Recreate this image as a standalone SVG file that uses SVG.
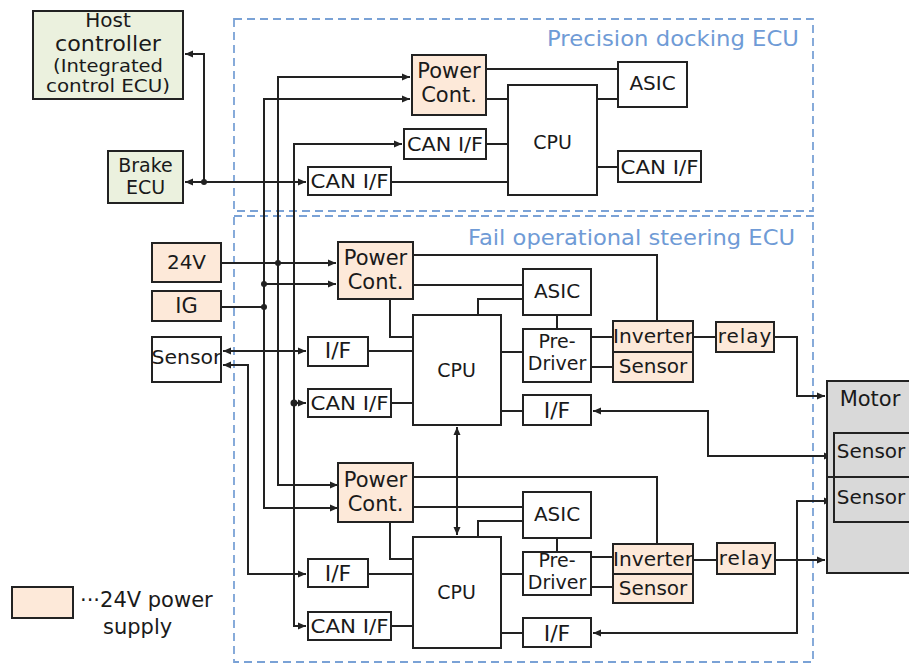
<svg xmlns="http://www.w3.org/2000/svg" width="909" height="663" viewBox="0 0 909 663">
<defs>
<style>
.box{stroke:#222;stroke-width:2}
.w{fill:#fff}
.p{fill:#fde9d9}
.g{fill:#ebf1de}
.m{fill:#d9d9d9}
.ln{fill:none;stroke:#222;stroke-width:2}
.t{font-family:"DejaVu Sans","Liberation Sans",sans-serif;fill:#1a1a1a;text-anchor:middle}
.ttl{font-family:"DejaVu Sans","Liberation Sans",sans-serif;fill:#6f9bd6;font-size:22px}
.dash{fill:none;stroke:#7aa2d6;stroke-width:1.8;stroke-dasharray:8 5}
.dot{fill:#222}
</style>
<marker id="ah" viewBox="0 0 8 8" refX="8" refY="4" markerWidth="8" markerHeight="8" markerUnits="userSpaceOnUse" orient="auto-start-reverse">
<path d="M0,0.5 L8,4 L0,7.5 z" fill="#222"/>
</marker>
</defs>
<rect width="909" height="663" fill="#fff"/>

<!-- ECU boundaries -->
<g id="pd-ecu">
<rect class="dash" x="234" y="19" width="579" height="192"/>
<text class="ttl" x="547" y="46" textLength="252" lengthAdjust="spacingAndGlyphs">Precision docking ECU</text>
</g>
<g id="fo-ecu">
<rect class="dash" x="234" y="216" width="579" height="446"/>
<text class="ttl" x="468" y="245" textLength="327" lengthAdjust="spacingAndGlyphs">Fail operational steering ECU</text>
</g>

<!-- connectors -->
<g id="connectors">
<!-- host / brake / CAN -->
<path class="ln" d="M306,182 H185" marker-start="url(#ah)" marker-end="url(#ah)"/>
<path class="ln" d="M204,182 V54 H185" marker-end="url(#ah)"/>
<!-- vertical buses -->
<path class="ln" d="M338,485 H278 V77 H410" marker-start="url(#ah)" marker-end="url(#ah)"/>
<path class="ln" d="M338,508 H264 V99 H410" marker-start="url(#ah)" marker-end="url(#ah)"/>
<path class="ln" d="M306,626 H294 V144 H402" marker-start="url(#ah)" marker-end="url(#ah)"/>
<path class="ln" d="M294,403 H306" marker-end="url(#ah)"/>
<!-- 24V / IG -->
<path class="ln" d="M221,263 H336" marker-end="url(#ah)"/>
<path class="ln" d="M221,307 H264"/>
<path class="ln" d="M264,284 H336" marker-end="url(#ah)"/>
<!-- left sensor -->
<path class="ln" d="M223,351 H306" marker-start="url(#ah)" marker-end="url(#ah)"/>
<path class="ln" d="M223,365 H248 V574 H306" marker-start="url(#ah)" marker-end="url(#ah)"/>
<!-- PD ECU internal -->
<path class="ln" d="M486,69 H618"/>
<path class="ln" d="M486,99 H508"/>
<path class="ln" d="M597,99 H618"/>
<path class="ln" d="M486,144 H508"/>
<path class="ln" d="M391,182 H508"/>
<path class="ln" d="M597,167 H618"/>
<!-- FO upper internal -->
<path class="ln" d="M413,255 H657 V321"/>
<path class="ln" d="M413,285 H523"/>
<path class="ln" d="M390,299 V337 H413"/>
<path class="ln" d="M368,351 H413"/>
<path class="ln" d="M391,403 H413"/>
<path class="ln" d="M478,315 V299 H523"/>
<path class="ln" d="M557,315 V329"/>
<path class="ln" d="M501,352 H523"/>
<path class="ln" d="M591,337 H613"/>
<path class="ln" d="M591,367 H613"/>
<path class="ln" d="M693,337 H716"/>
<path class="ln" d="M774,337 H797 V396 H825" marker-end="url(#ah)"/>
<path class="ln" d="M501,411 H523"/>
<path class="ln" d="M593,411 H708 V456 H832" marker-start="url(#ah)" marker-end="url(#ah)"/>
<!-- CPU link -->
<path class="ln" d="M457,427 V535" marker-start="url(#ah)" marker-end="url(#ah)"/>
<!-- FO lower internal -->
<path class="ln" d="M413,477 H657 V544"/>
<path class="ln" d="M413,507 H523"/>
<path class="ln" d="M390,522 V559 H413"/>
<path class="ln" d="M368,574 H413"/>
<path class="ln" d="M391,626 H413"/>
<path class="ln" d="M478,537 V521 H523"/>
<path class="ln" d="M557,538 V552"/>
<path class="ln" d="M501,574 H523"/>
<path class="ln" d="M591,557 H613"/>
<path class="ln" d="M591,587 H613"/>
<path class="ln" d="M693,560 H717"/>
<path class="ln" d="M775,560 H825" marker-end="url(#ah)"/>
<path class="ln" d="M501,633 H523"/>
<path class="ln" d="M593,633 H797 V501 H832" marker-start="url(#ah)" marker-end="url(#ah)"/>
<!-- junction dots -->
<circle class="dot" cx="204" cy="182" r="3"/>
<circle class="dot" cx="278" cy="263" r="3"/>
<circle class="dot" cx="264" cy="284" r="3"/>
<circle class="dot" cx="264" cy="307" r="3"/>
<circle class="dot" cx="294" cy="403" r="3.5"/>
</g>

<!-- nodes -->
<g id="host">
<rect class="box g" x="33" y="11" width="150" height="88"/>
<text class="t" x="108" y="26.5" font-size="20">Host</text>
<text class="t" x="108" y="50.5" font-size="21" textLength="106" lengthAdjust="spacingAndGlyphs">controller</text>
<text class="t" x="108" y="72" font-size="17" textLength="110" lengthAdjust="spacingAndGlyphs">(Integrated</text>
<text class="t" x="108" y="92" font-size="17" textLength="124" lengthAdjust="spacingAndGlyphs">control  ECU)</text>
</g>
<g id="brake">
<rect class="box g" x="108" y="151" width="75" height="52"/>
<text class="t" x="145.5" y="172" font-size="19">Brake</text>
<text class="t" x="145.5" y="194" font-size="19">ECU</text>
</g>

<g id="pd-power">
<rect class="box p" x="412" y="55" width="74" height="60"/>
<text class="t" x="449" y="78" font-size="21">Power</text>
<text class="t" x="449" y="102" font-size="21">Cont.</text>
</g>
<g id="pd-cpu">
<rect class="box w" x="508" y="85" width="89" height="110"/>
<text class="t" x="552.5" y="149" font-size="19">CPU</text>
</g>
<g id="pd-can1">
<rect class="box w" x="404" y="129" width="82" height="30"/>
<text class="t" x="445" y="151" font-size="20" textLength="76" lengthAdjust="spacingAndGlyphs">CAN I/F</text>
</g>
<g id="pd-can2">
<rect class="box w" x="308" y="167" width="83" height="28"/>
<text class="t" x="349.5" y="188" font-size="20" textLength="78" lengthAdjust="spacingAndGlyphs">CAN I/F</text>
</g>
<g id="pd-asic">
<rect class="box w" x="618" y="62" width="69" height="45"/>
<text class="t" x="652.5" y="90" font-size="20">ASIC</text>
</g>
<g id="pd-can3">
<rect class="box w" x="618" y="151" width="83" height="31"/>
<text class="t" x="659.5" y="174" font-size="20" textLength="78" lengthAdjust="spacingAndGlyphs">CAN I/F</text>
</g>

<g id="v24">
<rect class="box p" x="152" y="243" width="69" height="39"/>
<text class="t" x="186.5" y="269" font-size="20">24V</text>
</g>
<g id="ig">
<rect class="box p" x="152" y="291" width="69" height="30"/>
<text class="t" x="186.5" y="313" font-size="21">IG</text>
</g>
<g id="sensor-left">
<rect class="box w" x="152" y="337" width="69" height="45"/>
<text class="t" x="186.5" y="364" font-size="20" textLength="70" lengthAdjust="spacingAndGlyphs">Sensor</text>
</g>

<g id="fo1-power">
<rect class="box p" x="338" y="242" width="75" height="57"/>
<text class="t" x="375.5" y="265" font-size="21">Power</text>
<text class="t" x="375.5" y="289" font-size="21">Cont.</text>
</g>
<g id="fo1-if">
<rect class="box w" x="308" y="337" width="60" height="29"/>
<text class="t" x="338" y="358" font-size="22">I/F</text>
</g>
<g id="fo1-can">
<rect class="box w" x="308" y="389" width="83" height="28"/>
<text class="t" x="349.5" y="410" font-size="20" textLength="78" lengthAdjust="spacingAndGlyphs">CAN I/F</text>
</g>
<g id="fo1-cpu">
<rect class="box w" x="413" y="315" width="88" height="110"/>
<text class="t" x="456.5" y="377" font-size="19">CPU</text>
</g>
<g id="fo1-asic">
<rect class="box w" x="523" y="269" width="68" height="46"/>
<text class="t" x="557" y="298" font-size="20">ASIC</text>
</g>
<g id="fo1-predriver">
<rect class="box w" x="523" y="329" width="68" height="53"/>
<text class="t" x="557" y="348" font-size="19">Pre-</text>
<text class="t" x="557" y="370" font-size="19">Driver</text>
</g>
<g id="fo1-inverter">
<rect class="box p" x="613" y="321" width="80" height="31"/>
<text class="t" x="653" y="343" font-size="20" textLength="80" lengthAdjust="spacingAndGlyphs">Inverter</text>
</g>
<g id="fo1-sensor">
<rect class="box p" x="613" y="352" width="80" height="30"/>
<text class="t" x="653" y="373" font-size="20">Sensor</text>
</g>
<g id="fo1-relay">
<rect class="box p" x="716" y="322" width="58" height="30"/>
<text class="t" x="745" y="343" font-size="20" letter-spacing="1">relay</text>
</g>
<g id="fo1-if2">
<rect class="box w" x="523" y="395" width="68" height="30"/>
<text class="t" x="557" y="418" font-size="22">I/F</text>
</g>

<g id="fo2-power">
<rect class="box p" x="338" y="463" width="75" height="59"/>
<text class="t" x="375.5" y="487" font-size="21">Power</text>
<text class="t" x="375.5" y="511" font-size="21">Cont.</text>
</g>
<g id="fo2-if">
<rect class="box w" x="308" y="559" width="60" height="28"/>
<text class="t" x="338" y="581" font-size="22">I/F</text>
</g>
<g id="fo2-can">
<rect class="box w" x="308" y="612" width="83" height="28"/>
<text class="t" x="349.5" y="633" font-size="20" textLength="78" lengthAdjust="spacingAndGlyphs">CAN I/F</text>
</g>
<g id="fo2-cpu">
<rect class="box w" x="413" y="537" width="88" height="111"/>
<text class="t" x="456.5" y="599" font-size="19">CPU</text>
</g>
<g id="fo2-asic">
<rect class="box w" x="523" y="492" width="68" height="46"/>
<text class="t" x="557" y="521" font-size="20">ASIC</text>
</g>
<g id="fo2-predriver">
<rect class="box w" x="523" y="552" width="68" height="43"/>
<text class="t" x="557" y="567" font-size="19">Pre-</text>
<text class="t" x="557" y="589" font-size="19">Driver</text>
</g>
<g id="fo2-inverter">
<rect class="box p" x="613" y="544" width="80" height="30"/>
<text class="t" x="653" y="566" font-size="20" textLength="80" lengthAdjust="spacingAndGlyphs">Inverter</text>
</g>
<g id="fo2-sensor">
<rect class="box p" x="613" y="574" width="80" height="29"/>
<text class="t" x="653" y="595" font-size="20">Sensor</text>
</g>
<g id="fo2-relay">
<rect class="box p" x="717" y="543" width="58" height="31"/>
<text class="t" x="746" y="565" font-size="20" letter-spacing="1">relay</text>
</g>
<g id="fo2-if2">
<rect class="box w" x="523" y="618" width="68" height="29"/>
<text class="t" x="557" y="641" font-size="22">I/F</text>
</g>

<g id="motor">
<rect class="box m" x="827" y="381" width="90" height="192"/>
<text class="t" x="870" y="406" font-size="21">Motor</text>
<rect class="box m" x="834" y="433" width="80" height="89"/>
<line class="ln" x1="827" y1="477" x2="912" y2="477"/>
<text class="t" x="871" y="458" font-size="20">Sensor</text>
<text class="t" x="871" y="504" font-size="20">Sensor</text>
</g>

<g id="legend">
<rect class="box p" x="12" y="587" width="61" height="31"/>
<text font-family="DejaVu Sans, Liberation Sans, sans-serif" font-size="21" fill="#1a1a1a" x="80" y="607">···24V power</text>
<text font-family="DejaVu Sans, Liberation Sans, sans-serif" font-size="21" fill="#1a1a1a" x="103" y="634">supply</text>
</g>
</svg>
